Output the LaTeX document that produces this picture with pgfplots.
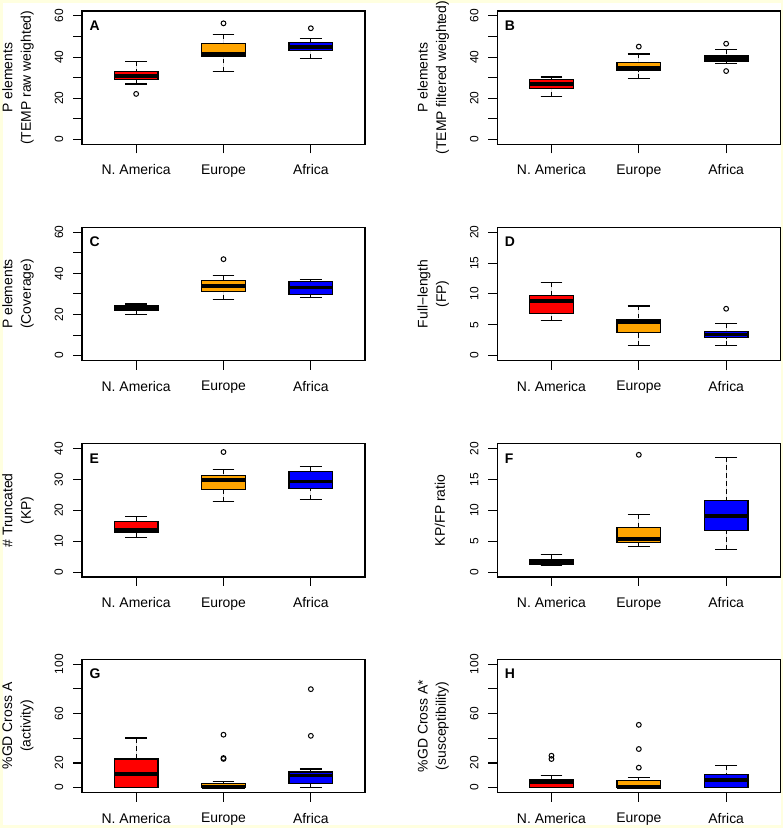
\documentclass[border=0pt]{standalone}
\usepackage{pgfplots}
\pgfplotsset{compat=1.18}
\usepgfplotslibrary{statistics}
\usepackage{fontspec}
\setmainfont{Liberation Sans}
\definecolor{bgyellow}{RGB}{255,255,224}
\definecolor{rorange}{RGB}{255,165,0}
\definecolor{rred}{RGB}{255,0,0}
\definecolor{rblue}{RGB}{0,0,255}

\pgfplotsset{
  rpanel/.style={
    scale only axis, width=283bp, height=133.3bp,
    xmin=0.38, xmax=3.62,
    xtick={1,2,3}, xticklabels={N. America, Europe, Africa},
    tick align=outside, major tick length=9bp,
    xtick pos=bottom, ytick pos=left,
    axis line style={line width=1.1bp},
    every tick/.style={black, line width=1.1bp},
    /pgf/number format/assume math mode=true,
    xticklabel style={font=\fontsize{14}{16}\selectfont},
    xticklabel shift=8bp,
    yticklabel style={rotate=90, anchor=base, font=\fontsize{12}{14}\selectfont},
    yticklabel shift=10bp,
    ylabel style={font=\fontsize{14}{18.5}\selectfont, align=center,
      at={(axis description cs:-0.226,0.5)}, anchor=center},
    clip=false,
    boxplot/draw direction=y,
    boxplot/box extend=0.5, boxplot/whisker extend=0.25,
    boxplot/every box/.style={draw=black, line width=1.1bp},
    boxplot/every median/.style={draw=black, line width=3.6bp},
    boxplot/draw/lower whisker/.code={%
      \draw[black, line width=1.1bp, dash pattern=on 4.5bp off 3.5bp]
        (boxplot box cs:\pgfplotsboxplotvalue{lower whisker},0.5) --
        (boxplot box cs:\pgfplotsboxplotvalue{lower quartile},0.5);
      \draw[black, line width=1.1bp, solid]
        (boxplot whisker cs:\pgfplotsboxplotvalue{lower whisker},0) --
        (boxplot whisker cs:\pgfplotsboxplotvalue{lower whisker},1);
    },
    boxplot/draw/upper whisker/.code={%
      \draw[black, line width=1.1bp, dash pattern=on 4.5bp off 3.5bp]
        (boxplot box cs:\pgfplotsboxplotvalue{upper whisker},0.5) --
        (boxplot box cs:\pgfplotsboxplotvalue{upper quartile},0.5);
      \draw[black, line width=1.1bp, solid]
        (boxplot whisker cs:\pgfplotsboxplotvalue{upper whisker},0) --
        (boxplot whisker cs:\pgfplotsboxplotvalue{upper whisker},1);
    },
  },
  bx/.style={draw=black, solid, line width=1.1bp, mark=o, mark size=2.4bp,
    mark options={solid, draw=black, line width=1bp}},
}
\newcommand{\panel}[1]{\node[anchor=west, inner sep=0pt, font=\fontsize{14}{16}\selectfont\bfseries]
  at (rel axis cs:0.026,0.89) {#1};}

\begin{document}
\begin{tikzpicture}
\fill[bgyellow] (0,0) rectangle (783bp,828bp);
\fill[white] (3bp,3bp) rectangle (781bp,825bp);

% ---------- A ----------
\begin{axis}[rpanel, at={(82bp,817bp)}, anchor=north west,
  ymin=-2.4, ymax=62.4, ytick={0,10,...,60}, yticklabels={0,,20,,40,,60},
  ylabel={P elements\\(TEMP raw weighted)}]
\addplot[bx, fill=rred, boxplot prepared={draw position=1, lower whisker=26.9, lower quartile=29.2, median=30.8, upper quartile=33.2, upper whisker=37.9}] coordinates {(0,22.1)};
\addplot[bx, fill=rorange, boxplot prepared={draw position=2, lower whisker=33.2, lower quartile=40.2, median=41.4, upper quartile=46.4, upper whisker=50.9}] coordinates {(0,56.4)};
\addplot[bx, fill=rblue, boxplot prepared={draw position=3, lower whisker=39.4, lower quartile=43.2, median=45.0, upper quartile=47.0, upper whisker=49.0}] coordinates {(0,54.0)};
\panel{A}
\end{axis}

% ---------- B ----------
\begin{axis}[rpanel, at={(497.3bp,817bp)}, anchor=north west,
  ymin=-2.4, ymax=62.4, ytick={0,10,...,60}, yticklabels={0,,20,,40,,60},
  ylabel={P elements\\(TEMP filtered weighted)}]
\addplot[bx, fill=rred, boxplot prepared={draw position=1, lower whisker=20.9, lower quartile=24.8, median=26.9, upper quartile=29.2, upper whisker=30.3}] coordinates {};
\addplot[bx, fill=rorange, boxplot prepared={draw position=2, lower whisker=29.5, lower quartile=33.4, median=34.8, upper quartile=37.5, upper whisker=41.5}] coordinates {(0,45.1)};
\addplot[bx, fill=rblue, boxplot prepared={draw position=3, lower whisker=37.0, lower quartile=37.9, median=39.1, upper quartile=40.5, upper whisker=43.5}] coordinates {(0,46.5) (0,33.2)};
\panel{B}
\end{axis}

% ---------- C ----------
\begin{axis}[rpanel, at={(82bp,600.7bp)}, anchor=north west,
  ymin=-2.4, ymax=62.4, ytick={0,10,...,60}, yticklabels={0,,20,,40,,60},
  ylabel={P elements\\(Coverage)}]
\addplot[bx, fill=rred, boxplot prepared={draw position=1, lower whisker=19.8, lower quartile=21.9, median=23.2, upper quartile=24.3, upper whisker=25.1}] coordinates {};
\addplot[bx, fill=rorange, boxplot prepared={draw position=2, lower whisker=27.4, lower quartile=31.3, median=34.0, upper quartile=36.5, upper whisker=38.8}] coordinates {(0,46.9)};
\addplot[bx, fill=rblue, boxplot prepared={draw position=3, lower whisker=28.1, lower quartile=29.8, median=33.2, upper quartile=36.0, upper whisker=37.0}] coordinates {};
\panel{C}
\end{axis}

% ---------- D ----------
\begin{axis}[rpanel, at={(497.3bp,600.7bp)}, anchor=north west,
  ymin=-0.8, ymax=20.8, ytick={0,5,...,20},
  ylabel={Full\textminus length\\(FP)}]
\addplot[bx, fill=rred, boxplot prepared={draw position=1, lower whisker=5.7, lower quartile=6.8, median=8.9, upper quartile=9.7, upper whisker=11.8}] coordinates {};
\addplot[bx, fill=rorange, boxplot prepared={draw position=2, lower whisker=1.6, lower quartile=3.8, median=5.5, upper quartile=5.9, upper whisker=8.05}] coordinates {};
\addplot[bx, fill=rblue, boxplot prepared={draw position=3, lower whisker=1.6, lower quartile=2.9, median=3.4, upper quartile=3.9, upper whisker=5.2}] coordinates {(0,7.6)};
\panel{D}
\end{axis}

% ---------- E ----------
\begin{axis}[rpanel, at={(82bp,384.3bp)}, anchor=north west,
  ymin=-1.6, ymax=41.6, ytick={0,10,...,40},
  ylabel={\# Truncated\\(KP)}]
\addplot[bx, fill=rred, boxplot prepared={draw position=1, lower whisker=11.2, lower quartile=12.7, median=13.6, upper quartile=16.3, upper whisker=17.9}] coordinates {};
\addplot[bx, fill=rorange, boxplot prepared={draw position=2, lower whisker=22.8, lower quartile=26.7, median=29.8, upper quartile=31.2, upper whisker=33.1}] coordinates {(0,38.9)};
\addplot[bx, fill=rblue, boxplot prepared={draw position=3, lower whisker=23.6, lower quartile=27.1, median=29.4, upper quartile=32.5, upper whisker=34.1}] coordinates {};
\panel{E}
\end{axis}

% ---------- F ----------
\begin{axis}[rpanel, at={(497.3bp,384.3bp)}, anchor=north west,
  ymin=-0.8, ymax=20.8, ytick={0,5,...,20},
  ylabel={KP/FP ratio}, ylabel style={at={(axis description cs:-0.2025,0.5)}}]
\addplot[bx, fill=rred, boxplot prepared={draw position=1, lower whisker=1.0, lower quartile=1.25, median=1.6, upper quartile=2.0, upper whisker=2.9}] coordinates {};
\addplot[bx, fill=rorange, boxplot prepared={draw position=2, lower whisker=4.2, lower quartile=4.8, median=5.4, upper quartile=7.15, upper whisker=9.3}] coordinates {(0,19.0)};
\addplot[bx, fill=rblue, boxplot prepared={draw position=3, lower whisker=3.6, lower quartile=6.8, median=9.05, upper quartile=11.65, upper whisker=18.6}] coordinates {};
\panel{F}
\end{axis}

% ---------- G ----------
\begin{axis}[rpanel, at={(82bp,168.7bp)}, anchor=north west,
  ymin=-4, ymax=104, ytick={0,20,...,100}, yticklabels={0,20,,60,,100},
  ylabel={\%GD Cross A\\(activity)}]
\addplot[bx, fill=rred, boxplot prepared={draw position=1, lower whisker=0, lower quartile=0, median=11.3, upper quartile=23.2, upper whisker=40.2}] coordinates {};
\addplot[bx, fill=rorange, boxplot prepared={draw position=2, lower whisker=0, lower quartile=0, median=0.5, upper quartile=3.2, upper whisker=5.1}] coordinates {(0,42.9) (0,24.0) (0,23.3)};
\addplot[bx, fill=rblue, boxplot prepared={draw position=3, lower whisker=0, lower quartile=3.5, median=9.7, upper quartile=12.7, upper whisker=15.1}] coordinates {(0,79.8) (0,42.0)};
\panel{G}
\end{axis}

% ---------- H ----------
\begin{axis}[rpanel, at={(497.3bp,168.7bp)}, anchor=north west,
  ymin=-4, ymax=104, ytick={0,20,...,100}, yticklabels={0,20,,60,,100},
  ylabel={\%GD Cross A*\\(susceptibility)}]
\addplot[bx, fill=rred, boxplot prepared={draw position=1, lower whisker=0, lower quartile=0, median=4.3, upper quartile=6.2, upper whisker=10.2}] coordinates {(0,25.9) (0,23.2)};
\addplot[bx, fill=rorange, boxplot prepared={draw position=2, lower whisker=0, lower quartile=0, median=0.4, upper quartile=5.9, upper whisker=8.1}] coordinates {(0,50.9) (0,31.3) (0,16.2)};
\addplot[bx, fill=rblue, boxplot prepared={draw position=3, lower whisker=0, lower quartile=0.3, median=6.2, upper quartile=10.3, upper whisker=18.2}] coordinates {};
\panel{H}
\end{axis}

\pgfresetboundingbox
\useasboundingbox (0,0) rectangle (783bp,828bp);
\end{tikzpicture}
\end{document}
